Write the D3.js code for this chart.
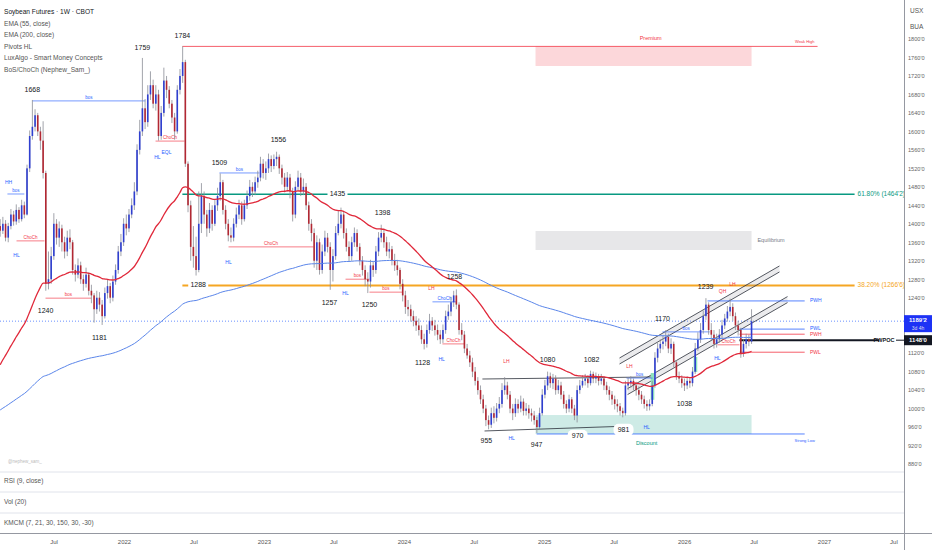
<!DOCTYPE html>
<html><head><meta charset="utf-8">
<script src="https://cdn.jsdelivr.net/npm/d3@7"></script>
<style>
html,body{margin:0;padding:0;background:#fff;}
svg{display:block;font-family:"Liberation Sans",Arial,sans-serif;}
</style></head>
<body>
<div id="chart"></div>
<script>
// ---------------- DATA ----------------
const firstWeek = new Date(2021, 1, 12);   // first weekly candle
const firstOpen = 1395;
const closes = [
1385,1400,1370,1395,1420,1405,1430,1410,1440,1420,
1520,1590,1610,1635,1600,1580,1510,1270,1280,1330,
1400,1370,1390,1360,1340,1370,1360,1300,1290,1310,
1280,1270,1290,1255,1245,1215,1240,1225,1200,1250,
1265,1240,1275,1300,1340,1360,1400,1390,1420,1440,
1470,1560,1600,1650,1620,1680,1700,1660,1680,1590,
1640,1710,1690,1660,1630,1600,1690,1720,1750,1530,
1440,1350,1330,1300,1400,1460,1420,1390,1430,1400,
1440,1460,1490,1430,1400,1375,1370,1400,1420,1440,
1410,1440,1460,1480,1470,1490,1500,1530,1510,1520,
1540,1525,1540,1545,1520,1500,1480,1500,1470,1420,
1480,1500,1470,1480,1440,1400,1380,1320,1360,1300,
1340,1370,1350,1300,1330,1380,1400,1420,1380,1350,
1330,1360,1380,1350,1320,1300,1280,1275,1310,1300,
1340,1370,1380,1360,1340,1345,1320,1310,1300,1270,
1245,1220,1215,1200,1190,1180,1170,1150,1140,1170,
1190,1180,1170,1160,1150,1170,1200,1210,1230,1245,
1225,1170,1160,1130,1115,1100,1080,1060,1040,1020,
1000,975,965,990,980,1000,1010,1040,1050,1030,
1000,990,1010,1000,1015,995,1000,990,985,975,
960,990,1030,1050,1070,1055,1065,1040,1050,1030,
1010,1000,1020,1000,985,1040,1050,1060,1065,1055,
1075,1065,1070,1060,1065,1050,1040,1030,1020,1010,
1005,995,990,1050,1055,1060,1050,1040,1030,1020,
1010,1005,1010,1050,1110,1130,1140,1145,1155,1130,
1140,1100,1070,1065,1055,1050,1060,1055,1080,1130,
1150,1170,1200,1225,1170,1160,1140,1150,1160,1180,
1195,1210,1220,1200,1180,1170,1120,1140,1150,1145,1189];
const highs = [
1410,1415,1408,1402,1432,1428,1442,1436,1452,1448,
1528,1602,1668,1648,1640,1610,1622,1515,1340,1350,
1423,1410,1405,1398,1372,1385,1388,1365,1312,1325,
1318,1290,1305,1295,1268,1250,1255,1252,1235,1262,
1280,1272,1288,1312,1352,1378,1412,1420,1432,1455,
1490,1572,1625,1759,1670,1700,1730,1712,1700,1690,
1655,1738,1720,1698,1668,1640,1700,1735,1784,1755,
1535,1450,1395,1372,1470,1488,1470,1430,1445,1440,
1452,1478,1509,1495,1440,1410,1392,1412,1435,1452,
1448,1452,1472,1495,1490,1502,1515,1545,1540,1535,
1552,1548,1550,1556,1550,1528,1510,1512,1508,1478,
1492,1515,1510,1498,1488,1448,1410,1390,1375,1368,
1355,1385,1380,1360,1345,1395,1430,1435,1428,1390,
1362,1372,1392,1388,1358,1330,1310,1295,1322,1318,
1352,1382,1398,1390,1372,1360,1352,1335,1322,1305,
1280,1255,1235,1225,1212,1200,1195,1180,1162,1182,
1205,1198,1192,1182,1170,1182,1212,1225,1242,1255,
1258,1230,1185,1168,1140,1125,1110,1090,1068,1050,
1030,1008,985,1002,1005,1012,1025,1055,1068,1058,
1038,1010,1022,1020,1028,1022,1012,1008,1000,995,
982,1002,1042,1062,1080,1078,1075,1072,1062,1058,
1038,1018,1030,1025,1008,1050,1062,1072,1075,1072,
1082,1080,1078,1075,1075,1070,1058,1048,1038,1028,
1020,1012,1002,1060,1068,1070,1065,1058,1048,1038,
1028,1018,1020,1060,1122,1142,1150,1158,1170,1162,
1152,1145,1105,1080,1072,1065,1070,1068,1090,1142,
1165,1185,1212,1239,1230,1185,1170,1162,1172,1192,
1205,1222,1238,1228,1208,1190,1175,1150,1162,1160,1215];
const lows = [
1372,1378,1362,1360,1388,1396,1398,1402,1405,1412,
1418,1512,1582,1600,1590,1560,1498,1255,1258,1270,
1322,1355,1350,1340,1325,1330,1345,1290,1275,1282,
1270,1255,1262,1245,1228,1186,1205,1210,1181,1195,
1238,1228,1232,1268,1292,1330,1352,1375,1382,1412,
1430,1462,1550,1590,1605,1610,1668,1650,1645,1580,
1582,1632,1672,1650,1618,1582,1595,1680,1705,1523,
1425,1320,1305,1288,1295,1380,1400,1372,1380,1385,
1395,1428,1450,1420,1388,1362,1360,1362,1392,1410,
1398,1405,1432,1450,1458,1462,1478,1492,1498,1495,
1510,1512,1518,1525,1508,1485,1468,1470,1455,1405,
1412,1470,1460,1462,1430,1385,1362,1305,1300,1290,
1292,1330,1338,1257,1275,1322,1375,1390,1368,1340,
1318,1320,1350,1340,1310,1288,1265,1250,1262,1285,
1292,1330,1360,1348,1330,1325,1310,1298,1288,1258,
1232,1205,1200,1188,1178,1168,1158,1140,1128,1132,
1162,1168,1158,1148,1140,1142,1162,1192,1200,1220,
1215,1160,1148,1120,1108,1090,1068,1050,1030,1010,
990,962,955,958,968,972,990,1002,1030,1020,
990,975,982,990,992,985,985,978,972,965,
947,955,985,1022,1040,1045,1042,1030,1032,1020,
1000,990,992,990,975,970,1032,1045,1050,1045,
1050,1055,1055,1050,1052,1040,1030,1018,1008,998,
992,985,981,985,1040,1045,1040,1028,1018,1010,
1000,995,996,1005,1045,1100,1120,1128,1135,1120,
1118,1090,1062,1055,1045,1038,1042,1045,1048,1075,
1125,1142,1162,1192,1160,1148,1130,1132,1142,1152,
1172,1188,1200,1190,1170,1158,1110,1112,1130,1135,1140];

// EMA starting values read at left edge of picture
const ema55Start = 1084;
const ema200Start = 993;

// Pivot labels: week index, price position
const pivotLabels = [
 {t:"1668",i:12,p:1690},{t:"1759",i:53,p:1780},{t:"1784",i:67.9,p:1806},
 {t:"1240",i:16.9,p:1211},{t:"1181",i:37,p:1153},{t:"1509",i:81.7,p:1531},
 {t:"1556",i:103.7,p:1581},{t:"1398",i:142.5,p:1423},
 {t:"1257",i:122.7,p:1228},{t:"1250",i:137.6,p:1224},
 {t:"1258",i:169.3,p:1285},{t:"1128",i:157.4,p:1099},{t:"1080",i:204,p:1105},
 {t:"1082",i:220.4,p:1105},{t:"1170",i:246.8,p:1194},{t:"1239",i:262.9,p:1263},
 {t:"955",i:181.2,p:930},{t:"947",i:199.9,p:921},{t:"1038",i:255,p:1010}
];
// labels sitting on a level line (drawn with white backing)
const onLineLabels = [{t:"1435",i:125.7,p:1464.2},{t:"1288",i:73.8,p:1266.6}];
const bubbleLabels = [{t:"970",i:215.2,p:941},{t:"981",i:232.3,p:954}];

// structure breaks (BoS / ChoCh)
const structLines = [
 {t:"bos",c:"b",i1:2.7,i2:9.0,p:1464.5},
 {t:"bos",c:"b",i1:12.0,i2:54.1,p:1666},
 {t:"ChoCh",c:"r",i1:6.1,i2:16.5,p:1363},
 {t:"bos",c:"r",i1:16.9,i2:34.0,p:1239},
 {t:"ChoCh",c:"r",i1:57.9,i2:68.7,p:1579},
 {t:"bos",c:"b",i1:81.7,i2:96.6,p:1510},
 {t:"ChoCh",c:"r",i1:85.1,i2:116.8,p:1350},
 {t:"bos",c:"r",i1:128.7,i2:137.6,p:1280},
 {t:"bos",c:"r",i1:137.6,i2:149.9,p:1252},
 {t:"ChoCh",c:"b",i1:161.1,i2:170.1,p:1231},
 {t:"ChoCh",c:"r",i1:164.8,i2:173.0,p:1140},
 {t:"bos",c:"b",i1:233.4,i2:243.1,p:1066},
 {t:"bos",c:"b",i1:246.8,i2:264.4,p:1166},
 {t:"ChoCh",c:"r",i1:267.3,i2:275.5,p:1138}
];
const swingTags = [
 {t:"HH",c:"b",i:3.1,p:1490},{t:"HL",c:"b",i:6.1,p:1330},
 {t:"EQL",c:"b",i:62,p:1555},{t:"HL",c:"b",i:58.6,p:1544},
 {t:"HL",c:"b",i:85.1,p:1315},{t:"HL",c:"b",i:128.7,p:1248},
 {t:"LH",c:"r",i:160.7,p:1259},{t:"HL",c:"b",i:164.5,p:1105},
 {t:"LH",c:"r",i:188.7,p:1101},{t:"HL",c:"b",i:190.6,p:934},
 {t:"LH",c:"r",i:234.5,p:1090},{t:"HL",c:"b",i:240.9,p:958},
 {t:"HL",c:"b",i:267.3,p:1107},{t:"QH",c:"r",i:269.2,p:1252},
 {t:"LH",c:"r",i:272.9,p:1268}
];
// previous week levels
const weekLevels = [
 {t:"PWH",c:"b",i1:263.6,p:1233},{t:"PWL",c:"b",i1:275.5,p:1172},
 {t:"PWH",c:"r",i1:275.5,p:1161},{t:"PWL",c:"r",i1:275.5,p:1122}
];
const pwpoc = 1148, lastPrice = 1189.2;
const fibLevels = [{t:"61.80% (1464'2)",p:1464.2,c:"#089981"},{t:"38.20% (1266'6)",p:1266.6,c:"#f5a623"}];
const zones = {premium:[1741.6,1784], equilibrium:[1343.3,1384.4], discount:[945,986], i1:199.5, i2:280};
const channelUpper = {i1:230.8,i2:290.4,a:[1109.5,1308.7],b:[1096.5,1295.7]};
const channelLower = {i1:233.8,i2:293.4,a:[1043.3,1242.4],b:[1030.3,1229.4]};
const rangeLines = [{i1:179.7,i2:243.1,p1:1064,p2:1068.4},{i1:180.5,i2:233.8,p1:951.5,p2:962}];
const highlightBars = [{i:243.1,p1:1019,p2:1077},{i:259.1,p1:1079,p2:1112}];
const priceTicks = d3.range(880, 1801, 40).filter(v => v !== 1200 && v !== 1160); // those two sit under the price boxes
const timeTicks = [[2021,6,"Jul"],[2022,0,"2022"],[2022,6,"Jul"],[2023,0,"2023"],[2023,6,"Jul"],[2024,0,"2024"],[2024,6,"Jul"],[2025,0,"2025"],[2025,6,"Jul"],[2026,0,"2026"],[2026,6,"Jul"],[2027,0,"2027"],[2027,6,"Jul"]];
const legendLines = ["Soybean Futures · 1W · CBOT","EMA (55, close)","EMA (200, close)","Pivots HL","LuxAlgo - Smart Money Concepts","BoS/ChoCh (Nephew_Sam_)"];
const panelNames = ["RSI (9, close)","Vol (20)","KMCM (7, 21, 30, 150, 30, -30)"];

// ---------------- CHART ----------------
const W = 932, H = 550;
const svg = d3.select("#chart").append("svg").attr("width", W).attr("height", H);
svg.append("rect").attr("width",W).attr("height",H).attr("fill","#fff");

const x = d3.scaleTime().domain([new Date(2022,0,1), new Date(2027,0,1)]).range([124, 824]);
const y = d3.scaleLinear().domain([880, 1800]).range([464, 39]);
const wk = i => new Date(firstWeek.getTime() + i*7*864e5);
const X = i => x(wk(i));
const BLUE = "#2962ff", RED = "#f23645";
const col = c => c === "b" ? BLUE : RED;

const bars = closes.map((c,i)=>({i, o: i===0?firstOpen:closes[i-1], c, h: highs[i], l: lows[i]}));

svg.append("clipPath").attr("id","mainclip").append("rect").attr("x",0).attr("y",0).attr("width",904).attr("height",470);
const g = svg.append("g").attr("clip-path","url(#mainclip)");

// zones
const zx1 = X(zones.i1), zx2 = X(zones.i2);
g.append("rect").attr("x",zx1).attr("width",zx2-zx1).attr("y",y(zones.premium[1])).attr("height",y(zones.premium[0])-y(zones.premium[1])).attr("fill","rgba(242,54,69,0.2)");
g.append("rect").attr("x",zx1).attr("width",zx2-zx1).attr("y",y(zones.equilibrium[1])).attr("height",y(zones.equilibrium[0])-y(zones.equilibrium[1])).attr("fill","rgba(120,123,134,0.18)");
g.append("rect").attr("x",zx1).attr("width",zx2-zx1).attr("y",y(zones.discount[1])).attr("height",y(zones.discount[0])-y(zones.discount[1])).attr("fill","rgba(8,153,129,0.2)");
g.append("line").attr("x1",X(67.9)).attr("x2",X(304.6)).attr("y1",y(1784)).attr("y2",y(1784)).attr("stroke",RED).attr("stroke-width",0.8);
g.append("line").attr("x1",X(199.9)).attr("x2",X(299.8)).attr("y1",y(945)).attr("y2",y(945)).attr("stroke",BLUE).attr("stroke-width",0.8);
const smallText = (t,xx,yy,color,size,anchor) => g.append("text").attr("x",xx).attr("y",yy).attr("fill",color).attr("font-size",size).attr("text-anchor",anchor||"middle").attr("dominant-baseline","middle").text(t);
smallText("Premium",X(242.4),y(1802),RED,5.5);
smallText("Weak High",X(299.8),y(1793.5),RED,4);
smallText("Equilibrium",X(282.2),y(1363),"#787b86",5.5,"start");
smallText("Discount",X(240.9),y(923.4),"#089981",5.5);
smallText("Strong Low",X(299.8),y(930),BLUE,4);

// fib levels
fibLevels.forEach(f=>{
  g.append("line").attr("x1",X(67.9)).attr("x2",X(318.4)).attr("y1",y(f.p)).attr("y2",y(f.p)).attr("stroke",f.c).attr("stroke-width",f.c==="#f5a623"?2:1.5);
  smallText(f.t,X(319.5),y(f.p),f.c,6.5,"start");
});

// current price dotted
g.append("line").attr("x1",0).attr("x2",904).attr("y1",y(lastPrice)).attr("y2",y(lastPrice)).attr("stroke",BLUE).attr("stroke-width",0.7).attr("stroke-dasharray","1,2");

// channels
[channelUpper, channelLower].forEach(ch=>{
  const pts = [[X(ch.i1),y(ch.a[0])],[X(ch.i2),y(ch.a[1])],[X(ch.i2),y(ch.b[1])],[X(ch.i1),y(ch.b[0])]];
  g.append("path").attr("d","M"+pts.map(p=>p.join(",")).join("L")+"Z").attr("fill","rgba(120,123,134,0.15)");
  g.append("line").attr("x1",pts[0][0]).attr("y1",pts[0][1]).attr("x2",pts[1][0]).attr("y2",pts[1][1]).attr("stroke","#2a2e39").attr("stroke-width",0.8);
  g.append("line").attr("x1",pts[3][0]).attr("y1",pts[3][1]).attr("x2",pts[2][0]).attr("y2",pts[2][1]).attr("stroke","#2a2e39").attr("stroke-width",0.8);
});
rangeLines.forEach(r=>g.append("line").attr("x1",X(r.i1)).attr("x2",X(r.i2)).attr("y1",y(r.p1)).attr("y2",y(r.p2)).attr("stroke","#2a2e39").attr("stroke-width",0.8));

highlightBars.forEach(hb=>g.append("rect").attr("x",X(hb.i)-1.8).attr("width",3.6).attr("y",y(hb.p2)).attr("height",y(hb.p1)-y(hb.p2)).attr("fill","#8fe3bd"));

// structure lines
structLines.forEach(s=>{
  g.append("line").attr("x1",X(s.i1)).attr("x2",X(s.i2)).attr("y1",y(s.p)).attr("y2",y(s.p)).attr("stroke",col(s.c)).attr("stroke-width",0.8).attr("opacity",0.8);
  smallText(s.t,(X(s.i1)+X(s.i2))/2,y(s.p)-3,col(s.c),4.5);
});
swingTags.forEach(s=>smallText(s.t,X(s.i),y(s.p),col(s.c),5));

weekLevels.forEach(w=>{
  g.append("line").attr("x1",X(w.i1)).attr("x2",X(299.8)).attr("y1",y(w.p)).attr("y2",y(w.p)).attr("stroke",col(w.c)).attr("stroke-width",0.8);
  smallText(w.t,X(301.8),y(w.p),col(w.c),5,"start");
});
g.append("line").attr("x1",X(275.5)).attr("x2",X(327.5)).attr("y1",y(pwpoc)).attr("y2",y(pwpoc)).attr("stroke","#131722").attr("stroke-width",2);

// candles
const cg = g.append("g");
bars.forEach(b=>{
  const cx = X(b.i);
  const up = b.c >= b.o;
  cg.append("line").attr("x1",cx).attr("x2",cx).attr("y1",y(Math.max(b.h,b.o,b.c))).attr("y2",y(Math.min(b.l,b.o,b.c))).attr("stroke","#8a8d96").attr("stroke-width",0.8);
  const top = y(Math.max(b.o,b.c)), bot = y(Math.min(b.o,b.c));
  cg.append("rect").attr("x",cx-0.8).attr("width",1.6).attr("y",top).attr("height",Math.max(0.8,bot-top)).attr("fill",up?"#2f3fd0":"#b22833");
});

// EMAs
function ema(vals, n, start){ const a = 2/(n+1); let e = start; return vals.map(v=>(e = e + a*(v-e))); }
const e55 = ema(closes,55,ema55Start), e200 = ema(closes,200,ema200Start);
const line = d3.line().x((d,i)=>X(i)).y(d=>y(d)).curve(d3.curveMonotoneX);
g.append("path").attr("d",line(e200)).attr("fill","none").attr("stroke","#5b86ea").attr("stroke-width",1);
g.append("path").attr("d",line(e55)).attr("fill","none").attr("stroke","#e0283a").attr("stroke-width",1.3);

// pivot labels
pivotLabels.forEach(pl=>smallText(pl.t,X(pl.i),y(pl.p),"#131722",7));
onLineLabels.forEach(pl=>{
  g.append("rect").attr("x",X(pl.i)-10).attr("y",y(pl.p)-4).attr("width",20).attr("height",8).attr("fill","#fff");
  smallText(pl.t,X(pl.i),y(pl.p),"#131722",7);
});
bubbleLabels.forEach(pl=>{
  g.append("rect").attr("x",X(pl.i)-10).attr("y",y(pl.p)-6).attr("width",20).attr("height",12).attr("rx",5).attr("fill","#fff");
  smallText(pl.t,X(pl.i),y(pl.p),"#131722",7);
});

// legend
legendLines.forEach((t,k)=>svg.append("text").attr("x",4).attr("y",14+k*11.5).attr("font-size",6.6).attr("fill",k===0?"#131722":"#555").text(t));
svg.append("text").attr("x",8).attr("y",463).attr("font-size",4.5).attr("fill","#bbb").text("@nephew_sam_");

// panels
[472,492,513].forEach(yy=>svg.append("line").attr("x1",0).attr("x2",904).attr("y1",yy).attr("y2",yy).attr("stroke","#e0e3eb").attr("stroke-width",1));
svg.append("line").attr("x1",0).attr("x2",932).attr("y1",533.5).attr("y2",533.5).attr("stroke","#9598a1").attr("stroke-width",1);
panelNames.forEach((t,k)=>svg.append("text").attr("x",4).attr("y",[483,504,525][k]).attr("font-size",6.5).attr("fill","#555").text(t));

// right axis
svg.append("line").attr("x1",904.5).attr("x2",904.5).attr("y1",0).attr("y2",H).attr("stroke","#9598a1").attr("stroke-width",1);
svg.append("text").attr("x",910).attr("y",13).attr("font-size",6.5).attr("fill","#555").text("USX");
svg.append("text").attr("x",910).attr("y",29).attr("font-size",6.5).attr("fill","#555").text("BUA");
const ya = svg.append("g").attr("transform","translate(904,0)").call(d3.axisRight(y).tickValues(priceTicks).tickSize(0).tickPadding(4).tickFormat(v=>v+"'0"));
ya.select(".domain").remove();
ya.selectAll("text").attr("font-size",5.6).attr("fill","#666").attr("font-family","Liberation Sans, Arial, sans-serif");

// price boxes
const yl = y(lastPrice);
svg.append("rect").attr("x",904).attr("y",yl-6).attr("width",28).attr("height",17).attr("fill","#1d32f5");
svg.append("text").attr("x",918).attr("y",yl+1).attr("text-anchor","middle").attr("font-size",6).attr("font-weight","bold").attr("fill","#fff").text("1189'2");
svg.append("text").attr("x",918).attr("y",yl+8.5).attr("text-anchor","middle").attr("font-size",5).attr("fill","#dde").text("3d 4h");
const yp = y(pwpoc);
svg.append("rect").attr("x",904).attr("y",yp-5).attr("width",28).attr("height",10).attr("fill","#131722");
svg.append("text").attr("x",918).attr("y",yp+2).attr("text-anchor","middle").attr("font-size",6).attr("font-weight","bold").attr("fill","#fff").text("1148'0");
svg.append("text").attr("x",884).attr("y",yp+2).attr("text-anchor","middle").attr("font-size",5.5).attr("font-weight","bold").attr("fill","#131722").text("PWPOC");
svg.append("line").attr("x1",896).attr("x2",904).attr("y1",yp).attr("y2",yp).attr("stroke","#131722").attr("stroke-width",1);

// time axis
const xa = svg.append("g").attr("transform","translate(0,538)").call(d3.axisBottom(x).tickValues(timeTicks.map(t=>new Date(t[0],t[1],1))).tickSize(0).tickPadding(2).tickFormat((d,k)=>timeTicks[k][2]));
xa.select(".domain").remove();
xa.selectAll("text").attr("font-size",6).attr("fill","#555").attr("font-family","Liberation Sans, Arial, sans-serif");
</script>
</body></html>
